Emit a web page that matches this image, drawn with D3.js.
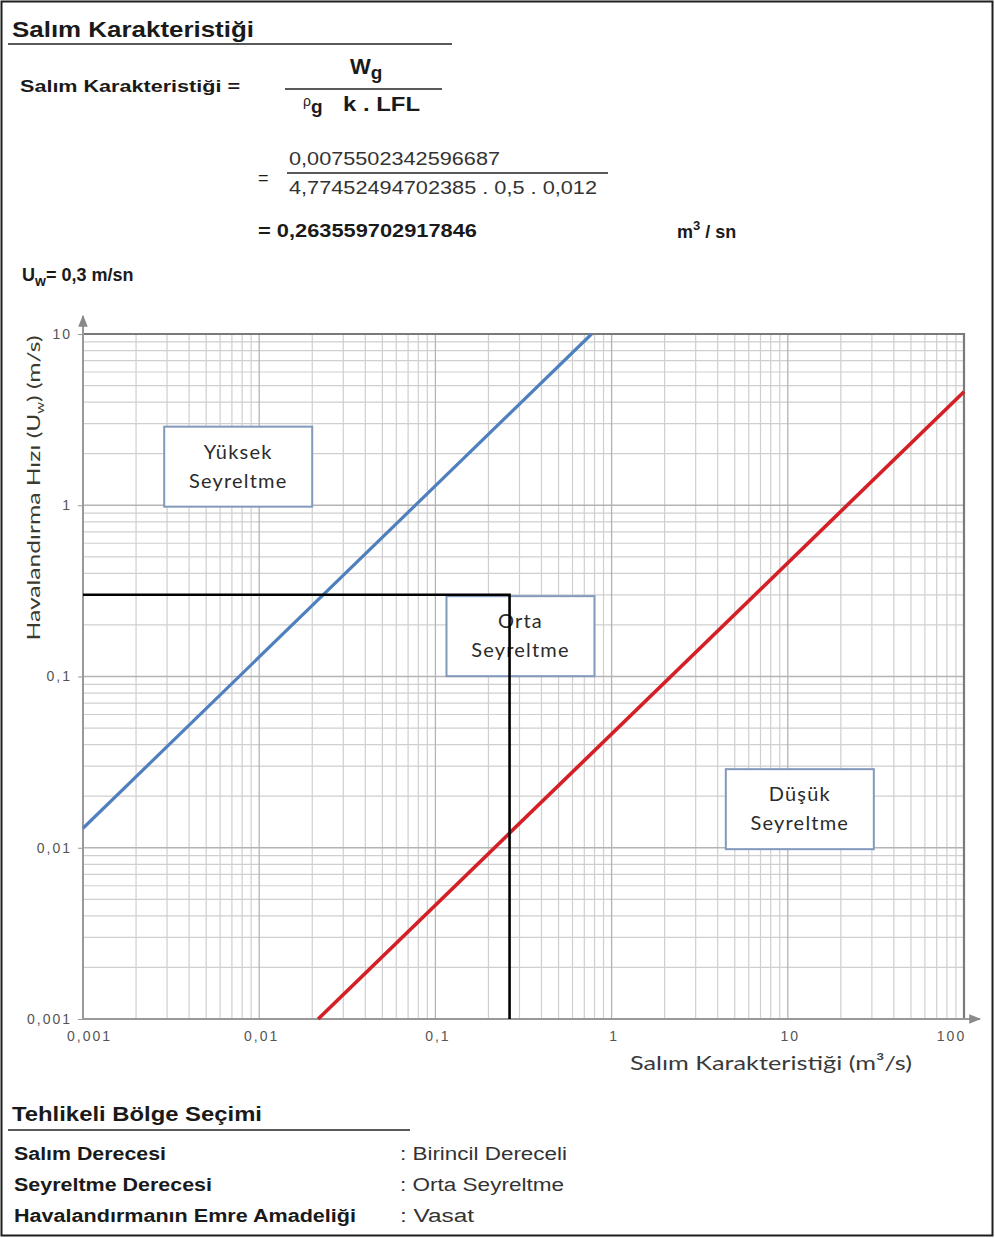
<!DOCTYPE html>
<html>
<head>
<meta charset="utf-8">
<script src="https://cdn.jsdelivr.net/npm/d3@7/dist/d3.min.js"></script>
<style>
  html, body { margin: 0; padding: 0; background: #fff; }
  svg { display: block; }
  .hdr { font-family: "Liberation Sans", Arial, sans-serif; fill: #1a1a1a; }
  .lab { font-family: "Lato", "Open Sans", sans-serif; }
</style>
</head>
<body>
<svg id="chart" width="995" height="1238"></svg>
<script>
// Release characteristic diagram (log-log): ventilation velocity vs. release characteristic

// Axis decades
const xTicks = [0.001, 0.01, 0.1, 1, 10, 100];
const yTicks = [0.001, 0.01, 0.1, 1, 10];
const xTickLabels = ["0,001", "0,01", "0,1", "1", "10", "100"];
const yTickLabels = ["0,001", "0,01", "0,1", "1", "10"];

// Dilution boundary lines [release characteristic m³/s, velocity m/s]
const highDilutionLine = [[0.001, 0.013], [0.77, 10]];
const lowDilutionLine = [[0.0216, 0.001], [100, 4.6]];

// Operating point: Uw = 0,3 m/s, release characteristic = 0,263559702917846 m³/s
const releaseChar = 0.263559702917846;
const ventVelocity = 0.3;

// Region labels, anchored at their centre in data coordinates
const regionNames = [["Yüksek", "Seyreltme"], ["Orta", "Seyreltme"], ["Düşük", "Seyreltme"]];
const regionX = [0.0076, 0.304, 11.7];
const regionY = [1.68, 0.172, 0.0168];

// Summary table
const summaryKeys = ["Salım Derecesi", "Seyreltme Derecesi", "Havalandırmanın Emre Amadeliği"];
const summaryValues = ["Birincil Dereceli", "Orta Seyreltme", "Vasat"];
const summaryKeyWidths = [152, 198, 342];
const summaryValueWidths = [167, 164, 74];

const svg = d3.select("#chart");

// helper: text stretched to a given width
function fitText(sel, w) {
  return sel.attr("textLength", w).attr("lengthAdjust", "spacingAndGlyphs");
}

// ---------- outer frame ----------
svg.append("rect").attr("x", 1.5).attr("y", 1.5).attr("width", 991).attr("height", 1234)
  .attr("fill", "#fff").attr("stroke", "#1e1e1e").attr("stroke-width", 2);

// ---------- header: formula ----------
const hdr = svg.append("g").attr("class", "hdr");
fitText(hdr.append("text").attr("x", 12).attr("y", 37).attr("font-size", 22).attr("font-weight", "bold")
  .text("Salım Karakteristiği"), 242);
hdr.append("line").attr("x1", 8).attr("x2", 452).attr("y1", 44).attr("y2", 44)
  .attr("stroke", "#222").attr("stroke-width", 1.5);

fitText(hdr.append("text").attr("x", 20).attr("y", 92).attr("font-size", 17).attr("font-weight", "bold")
  .text("Salım Karakteristiği ="), 220);

// W_g / (ρ_g k . LFL)
const num = hdr.append("text").attr("x", 350).attr("y", 74).attr("font-size", 22).attr("font-weight", "bold");
num.append("tspan").text("W");
num.append("tspan").attr("dy", 5).attr("font-size", 19).text("g");
hdr.append("line").attr("x1", 285).attr("x2", 442).attr("y1", 89).attr("y2", 89)
  .attr("stroke", "#222").attr("stroke-width", 1.5);
const den = hdr.append("text").attr("x", 303).attr("y", 106).attr("font-size", 14);
den.append("tspan").text("ρ");
den.append("tspan").attr("dy", 7).attr("font-size", 19).attr("font-weight", "bold").text("g");
fitText(hdr.append("text").attr("x", 343).attr("y", 111).attr("font-size", 20).attr("font-weight", "bold")
  .text("k . LFL"), 77);

hdr.append("text").attr("x", 258).attr("y", 184).attr("font-size", 18).text("=");
fitText(hdr.append("text").attr("x", 289).attr("y", 165).attr("font-size", 18).attr("fill", "#333")
  .text("0,0075502342596687"), 211);
hdr.append("line").attr("x1", 287).attr("x2", 608).attr("y1", 173).attr("y2", 173)
  .attr("stroke", "#222").attr("stroke-width", 1.5);
fitText(hdr.append("text").attr("x", 289).attr("y", 194).attr("font-size", 18).attr("fill", "#333")
  .text("4,77452494702385 . 0,5 . 0,012"), 308);

fitText(hdr.append("text").attr("x", 258).attr("y", 237).attr("font-size", 18).attr("font-weight", "bold")
  .text("= 0,263559702917846"), 219);
const unit = hdr.append("text").attr("x", 677).attr("y", 238).attr("font-size", 18).attr("font-weight", "bold");
unit.append("tspan").text("m");
unit.append("tspan").attr("dy", -8).attr("font-size", 13).text("3");
unit.append("tspan").attr("dy", 8).text(" / sn");

const uw = hdr.append("text").attr("x", 22).attr("y", 281).attr("font-size", 18).attr("font-weight", "bold");
uw.append("tspan").text("U");
uw.append("tspan").attr("dy", 5).attr("font-size", 14).text("w");
uw.append("tspan").attr("dy", -5).text("= 0,3 m/sn");

// ---------- chart ----------
const x = d3.scaleLog().domain([0.001, 100]).range([83, 964]);
const y = d3.scaleLog().domain([0.001, 10]).range([1019, 334]);

const plot = svg.append("g");

// minor + major grid
const minorVals = [];
for (let e = -3; e < 2; e++) for (let k = 2; k <= 9; k++) minorVals.push(k * Math.pow(10, e));
const minorValsY = minorVals.filter(v => v < 10);

plot.append("g").selectAll("line").data(minorVals).join("line")
  .attr("x1", d => x(d)).attr("x2", d => x(d)).attr("y1", y(10)).attr("y2", y(0.001))
  .attr("stroke", "#cfcfcf").attr("stroke-width", 1.2);
plot.append("g").selectAll("line").data(minorValsY).join("line")
  .attr("y1", d => y(d)).attr("y2", d => y(d)).attr("x1", x(0.001)).attr("x2", x(100))
  .attr("stroke", "#cfcfcf").attr("stroke-width", 1.2);
plot.append("g").selectAll("line").data(xTicks).join("line")
  .attr("x1", d => x(d)).attr("x2", d => x(d)).attr("y1", y(10)).attr("y2", y(0.001))
  .attr("stroke", "#b4b4b4").attr("stroke-width", 1.3);
plot.append("g").selectAll("line").data(yTicks).join("line")
  .attr("y1", d => y(d)).attr("y2", d => y(d)).attr("x1", x(0.001)).attr("x2", x(100))
  .attr("stroke", "#b4b4b4").attr("stroke-width", 1.3);

// frame: top & right darker
plot.append("path")
  .attr("d", `M${x(0.001)},${y(10)}H${x(100)}V${y(0.001)}`)
  .attr("fill", "none").attr("stroke", "#7a7a7a").attr("stroke-width", 2.2);

// axes with arrows
svg.append("defs").append("marker").attr("id", "arr").attr("viewBox", "0 0 10 10")
  .attr("refX", 9).attr("refY", 5).attr("markerWidth", 6).attr("markerHeight", 6)
  .attr("orient", "auto-start-reverse")
  .append("path").attr("d", "M0,1L10,5L0,9Z").attr("fill", "#8a8a8a");
plot.append("line").attr("x1", x(0.001)).attr("x2", x(0.001)).attr("y1", y(0.001)).attr("y2", 316)
  .attr("stroke", "#999").attr("stroke-width", 2).attr("marker-end", "url(#arr)");
plot.append("line").attr("x1", x(0.001)).attr("x2", 980).attr("y1", y(0.001)).attr("y2", y(0.001))
  .attr("stroke", "#999").attr("stroke-width", 2).attr("marker-end", "url(#arr)");

// tick labels via d3 axes
const yAxis = d3.axisLeft(y).tickValues(yTicks).tickSize(5).tickPadding(6)
  .tickFormat((d, i) => yTickLabels[i]);
const gy = plot.append("g").attr("transform", `translate(${x(0.001)},0)`).call(yAxis);
const xAxis = d3.axisBottom(x).tickValues(xTicks).tickSize(0).tickPadding(12)
  .tickFormat((d, i) => xTickLabels[i]);
const gx = plot.append("g").attr("transform", `translate(0,${y(0.001)})`).call(xAxis);
[gx, gy].forEach(g => {
  g.select(".domain").remove();
  g.selectAll(".tick line").attr("stroke", "#999");
  g.selectAll("text").attr("font-family", "'Liberation Sans', Arial, sans-serif")
    .attr("font-size", 14).attr("fill", "#555").attr("letter-spacing", 2);
});
gx.selectAll(".tick text").attr("dx", (d, i) => i === 0 ? 6 : (i === xTicks.length - 1 ? -13 : 2));

// dilution boundary lines
const line = d3.line().x(d => x(d[0])).y(d => y(d[1]));
plot.append("path").datum(highDilutionLine).attr("d", line)
  .attr("fill", "none").attr("stroke", "#4f80bd").attr("stroke-width", 3.2);
plot.append("path").datum(lowDilutionLine).attr("d", line)
  .attr("fill", "none").attr("stroke", "#d41f26").attr("stroke-width", 3.6);

// region label boxes
const boxW = 148, boxH = 80;
const regions = plot.append("g").selectAll("g").data(regionNames).join("g")
  .attr("transform", (d, i) => `translate(${x(regionX[i])},${y(regionY[i])})`);
regions.append("rect").attr("x", -boxW / 2).attr("y", -boxH / 2).attr("width", boxW).attr("height", boxH)
  .attr("fill", "#fff").attr("stroke", "#8299bb").attr("stroke-width", 2);
regions.each(function (d) {
  const g = d3.select(this);
  d.forEach((t, k) => {
    g.append("text").attr("class", "lab").attr("text-anchor", "middle")
      .attr("y", -8 + k * 29).attr("font-size", 20).attr("fill", "#2b2b2b").attr("letter-spacing", 1.2)
      .text(t);
  });
});

// operating point guide lines
plot.append("path")
  .attr("d", `M${x(0.001)},${y(ventVelocity)}H${x(releaseChar)}V${y(0.001)}`)
  .attr("fill", "none").attr("stroke", "#000").attr("stroke-width", 2.6);

// axis titles
const yt = svg.append("text").attr("class", "lab")
  .attr("transform", `translate(40,488) rotate(-90)`)
  .attr("text-anchor", "middle").attr("font-size", 18).attr("fill", "#3b3a2e")
  .attr("textLength", 305).attr("lengthAdjust", "spacingAndGlyphs");
yt.append("tspan").text("Havalandırma Hızı (U");
yt.append("tspan").attr("dy", 4).attr("font-size", 11).text("w");
yt.append("tspan").attr("dy", -4).text(") (m/s)");

fitText(svg.append("text").attr("class", "lab").attr("x", 630).attr("y", 1070)
  .attr("font-size", 20).attr("fill", "#3a3a3a")
  .text("Salım Karakteristiği  (m³/s)"), 282);

// ---------- summary ----------
const sum = svg.append("g").attr("class", "hdr");
fitText(sum.append("text").attr("x", 12).attr("y", 1121).attr("font-size", 20).attr("font-weight", "bold")
  .text("Tehlikeli Bölge Seçimi"), 250);
sum.append("line").attr("x1", 8).attr("x2", 410).attr("y1", 1130).attr("y2", 1130)
  .attr("stroke", "#222").attr("stroke-width", 1.5);
sum.selectAll("text.k").data(summaryKeys).join("text").attr("class", "k")
  .attr("x", 14).attr("y", (d, i) => 1160 + i * 31).attr("font-size", 18).attr("font-weight", "bold")
  .attr("textLength", (d, i) => summaryKeyWidths[i]).attr("lengthAdjust", "spacingAndGlyphs")
  .text(d => d);
sum.selectAll("text.v").data(summaryValues).join("text").attr("class", "v")
  .attr("x", 400).attr("y", (d, i) => 1160 + i * 31).attr("font-size", 18).attr("fill", "#333")
  .attr("textLength", (d, i) => summaryValueWidths[i]).attr("lengthAdjust", "spacingAndGlyphs")
  .text(d => ":  " + d);
</script>
</body>
</html>
